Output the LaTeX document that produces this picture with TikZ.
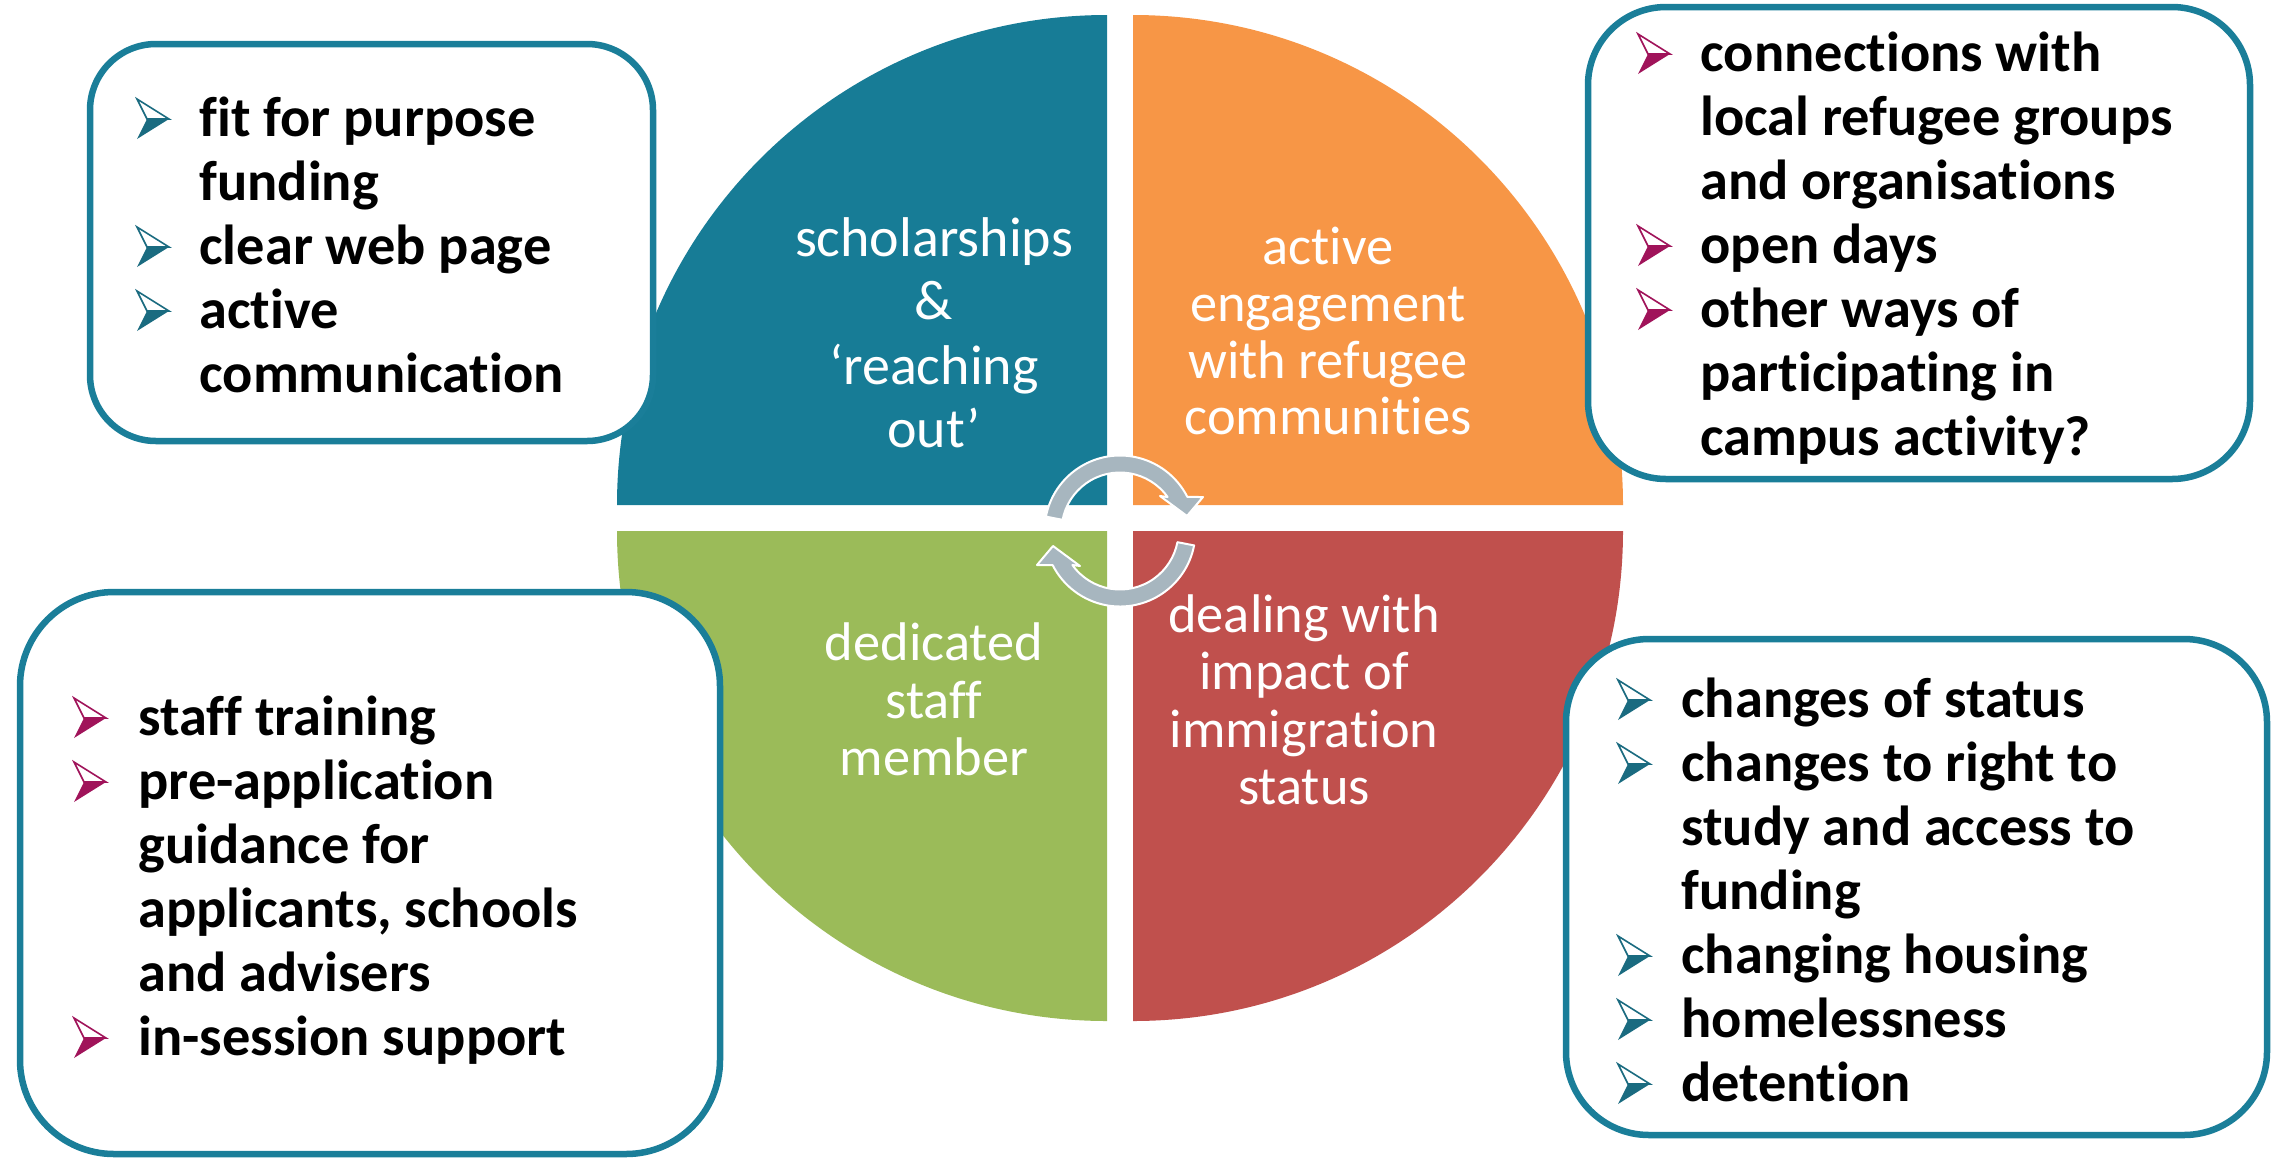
\documentclass[tikz,border=0pt]{standalone}
\usepackage{fontspec}
\setmainfont{Carlito}[Ligatures=NoCommon]
\definecolor{qteal}{HTML}{177C96}
\definecolor{qorange}{HTML}{F79646}
\definecolor{qred}{HTML}{C0504D}
\definecolor{qgreen}{HTML}{9BBB59}
\definecolor{boxteal}{HTML}{1A7E99}
\definecolor{bulteal}{HTML}{1A6B80}
\definecolor{bulmag}{HTML}{A0135A}
\definecolor{arrgray}{HTML}{A7B6BF}
\newcommand\bulshape[1]{%
  \filldraw[fill=white, draw=#1, line width=0.8pt, line join=miter] (0,-37) -- (32,-17) -- (10,-17) -- cycle;
  \fill[#1] (0,3) -- (32,-17) -- (10,-17) -- cycle;
}
\tikzset{
  quadtext/.style={text=white, font=\fontsize{27.2pt}{30pt}\selectfont, anchor=base, inner sep=0pt},
  bigquadtext/.style={quadtext, font=\fontsize{28pt}{32pt}\selectfont},
  itemtext/.style={text=black, font=\bfseries\fontsize{28.2pt}{32pt}\selectfont, anchor=base west, inner sep=0pt},
  infobox/.style={draw=boxteal, line width=3.25pt, fill=white, inner sep=0pt},
  cyclearrow/.style={fill=arrgray, draw=white, line width=1pt, line join=round},
  tbul/.pic={\bulshape{bulteal}},
  mbul/.pic={\bulshape{bulmag}},
}
\begin{document}
\begin{tikzpicture}[x=0.5pt,y=-0.5pt]
\useasboundingbox (0,0) rectangle (2282,1158);
% quadrants
\fill[qteal]   (1107,505) -- (617,505) arc[start angle=180,end angle=270,radius=490] -- cycle;
\fill[qorange] (1133,505) -- (1133,15) arc[start angle=270,end angle=360,radius=490] -- cycle;
\fill[qred]    (1133,531) -- (1623,531) arc[start angle=0,end angle=90,radius=490] -- cycle;
\fill[qgreen]  (1107,531) -- (1107,1021) arc[start angle=90,end angle=180,radius=490] -- cycle;
% quadrant texts
\node[bigquadtext] (q1a) at (934,256) {scholarships};
\node[bigquadtext] (q1b) at (934,319) {\&};
\node[bigquadtext] (q1c) at (934,384) {‘reaching};
\node[bigquadtext] (q1d) at (934,447) {out’};
\node[quadtext] (q2a) at (1328,264) {active};
\node[quadtext] (q2b) at (1328,321) {engagement};
\node[quadtext] (q2c) at (1328,378) {with refugee};
\node[quadtext] (q2d) at (1328,434) {communities};
\node[quadtext] (q3a) at (1304,632) {dealing with};
\node[quadtext] (q3b) at (1304,689) {impact of};
\node[quadtext] (q3c) at (1304,747) {immigration};
\node[quadtext] (q3d) at (1304,804) {status};
\node[quadtext] (q4a) at (934,660) {dedicated};
\node[quadtext] (q4b) at (934,718) {staff};
\node[quadtext] (q4c) at (934,775) {member};
% cycle arrows
\begin{scope}[shift={(1120,531)}]
\path[cyclearrow] (-169:75.5) arc[start angle=-169,end angle=-26.8,radius=75.5]
   -- (83,-34) -- (67,-15) -- (40,-35) -- (-35.5:58.5)
   arc[start angle=-35.5,end angle=-169,radius=58.5] -- cycle;
\path[cyclearrow] (11:75.5) arc[start angle=11,end angle=153.2,radius=75.5]
   -- (-83,34) -- (-67,15) -- (-40,35) -- (144.5:58.5)
   arc[start angle=144.5,end angle=11,radius=58.5] -- cycle;
\end{scope}
% boxes
\node[infobox, rounded corners=33pt, minimum width=281.5pt, minimum height=198.5pt] (tlbox) at (371.5,242.5) {};
\node[infobox, rounded corners=39pt, minimum width=331pt, minimum height=236pt] (trbox) at (1919,243) {};
\node[infobox, rounded corners=47pt, minimum width=350pt, minimum height=281pt] (blbox) at (370,873) {};
\node[infobox, rounded corners=41.5pt, minimum width=350.5pt, minimum height=248pt] (brbox) at (1916.5,887) {};
% top-left list
\node[itemtext] (tl1) at (199,136) {fit for purpose};
\node[itemtext] (tl2) at (199,200) {funding};
\node[itemtext] (tl3) at (199,264) {clear web page};
\node[itemtext] (tl4) at (199,328) {active};
\node[itemtext] (tl5) at (199,392) {communication};
\pic (tlb1) at (137,136) {tbul};
\pic (tlb2) at (137,264) {tbul};
\pic (tlb3) at (137,328) {tbul};
% top-right list
\node[itemtext] (tr1) at (1700,71) {connections with};
\node[itemtext] (tr2) at (1700,135) {local refugee groups};
\node[itemtext] (tr3) at (1700,199) {and organisations};
\node[itemtext] (tr4) at (1700,263) {open days};
\node[itemtext] (tr5) at (1700,327) {other ways of};
\node[itemtext] (tr6) at (1700,391) {participating in};
\node[itemtext] (tr7) at (1700,455) {campus activity?};
\pic (trb1) at (1638,71) {mbul};
\pic (trb2) at (1638,263) {mbul};
\pic (trb3) at (1638,327) {mbul};
% bottom-left list
\node[itemtext] (bl1) at (138,735) {staff training};
\node[itemtext] (bl2) at (138,799) {pre-application};
\node[itemtext] (bl3) at (138,863) {guidance for};
\node[itemtext] (bl4) at (138,927) {applicants, schools};
\node[itemtext] (bl5) at (138,991) {and advisers};
\node[itemtext] (bl6) at (138,1055) {in-session support};
\pic (blb1) at (74,735) {mbul};
\pic (blb2) at (74,799) {mbul};
\pic (blb3) at (74,1055) {mbul};
% bottom-right list
\node[itemtext] (br1) at (1681,717) {changes of status};
\node[itemtext] (br2) at (1681,781) {changes to right to};
\node[itemtext] (br3) at (1681,845) {study and access to};
\node[itemtext] (br4) at (1681,909) {funding};
\node[itemtext] (br5) at (1681,973) {changing housing};
\node[itemtext] (br6) at (1681,1037) {homelessness};
\node[itemtext] (br7) at (1681,1101) {detention};
\pic (brb1) at (1618,717) {tbul};
\pic (brb2) at (1618,781) {tbul};
\pic (brb3) at (1618,973) {tbul};
\pic (brb4) at (1618,1037) {tbul};
\pic (brb5) at (1618,1101) {tbul};
\end{tikzpicture}
\end{document}
